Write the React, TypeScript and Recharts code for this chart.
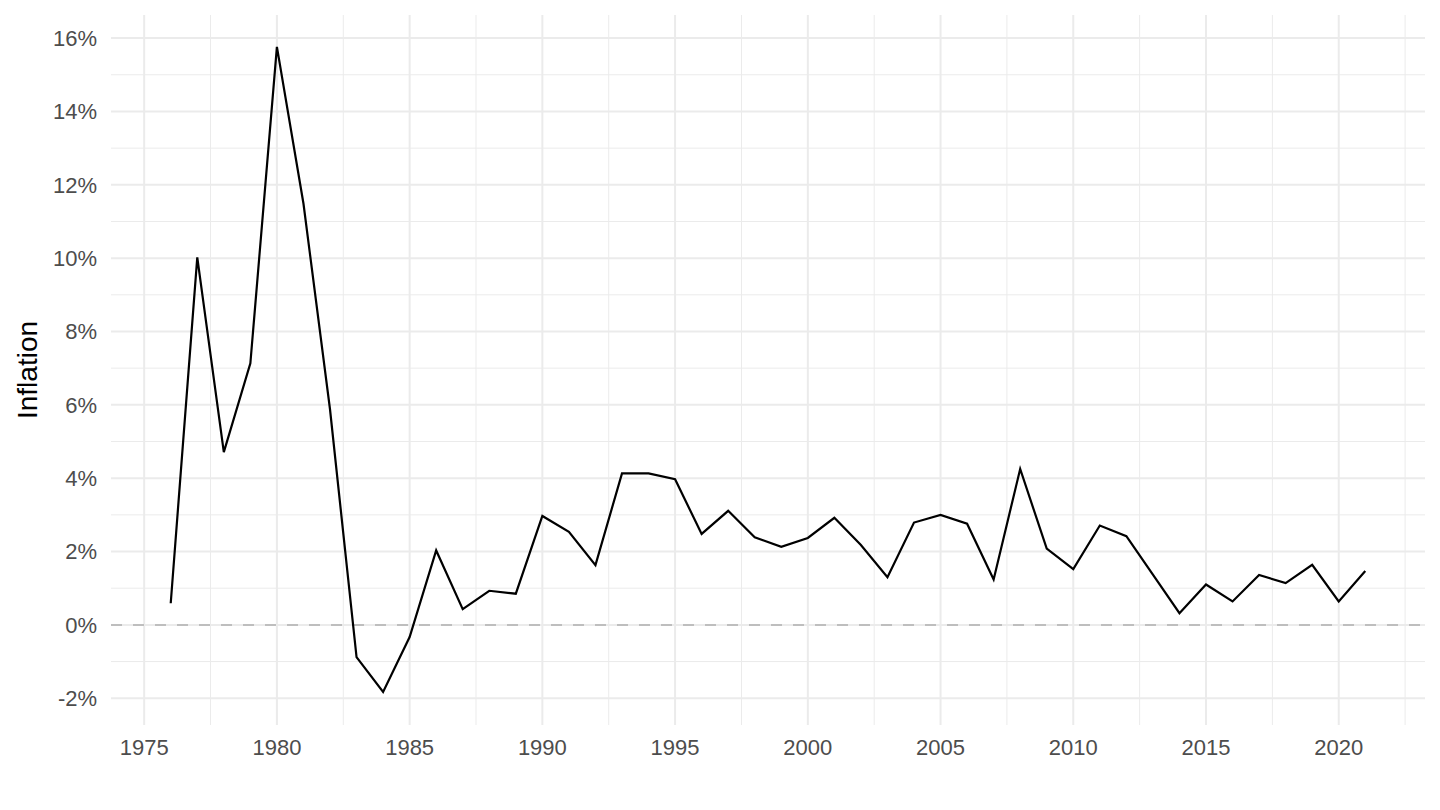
import {
  LineChart,
  Line,
  XAxis,
  YAxis,
  CartesianGrid,
  ReferenceLine,
} from 'recharts';

const years = [
  1976, 1977, 1978, 1979, 1980, 1981, 1982, 1983, 1984, 1985, 1986, 1987,
  1988, 1989, 1990, 1991, 1992, 1993, 1994, 1995, 1996, 1997, 1998, 1999,
  2000, 2001, 2002, 2003, 2004, 2005, 2006, 2007, 2008, 2009, 2010, 2011,
  2012, 2013, 2014, 2015, 2016, 2017, 2018, 2019, 2020, 2021,
];

// annual inflation, percent
const inflation = [
  0.59, 10.02, 4.71, 7.13, 15.76, 11.49, 5.88, -0.88, -1.83, -0.33, 2.03, 0.43,
  0.93, 0.85, 2.97, 2.54, 1.63, 4.13, 4.13, 3.97, 2.48, 3.11, 2.39, 2.13,
  2.37, 2.92, 2.18, 1.3, 2.79, 3.0, 2.76, 1.24, 4.25, 2.08, 1.52, 2.71,
  2.42, 1.37, 0.32, 1.1, 0.64, 1.36, 1.14, 1.64, 0.64, 1.47,
];

const xTicks = [1975, 1980, 1985, 1990, 1995, 2000, 2005, 2010, 2015, 2020];
const xMinor = [1977.5, 1982.5, 1987.5, 1992.5, 1997.5, 2002.5, 2007.5, 2012.5, 2017.5, 2022.5];
const yTicks = [-2, 0, 2, 4, 6, 8, 10, 12, 14, 16];
const yMinor = [-1, 1, 3, 5, 7, 9, 11, 13, 15];

const data = years.map((year, i) => ({ year, inflation: inflation[i] }));

const tickStyle = { fontSize: 22, fill: '#4d4d4d' };

export default function App() {
  return (
    <div
      style={{
        position: 'absolute',
        left: 0,
        top: 0,
        width: 1440,
        height: 810,
        background: '#fff',
        fontFamily: '"Liberation Sans", Arial, Helvetica, sans-serif',
      }}
    >
      <LineChart
        width={1440}
        height={810}
        data={data}
        margin={{ top: 15, right: 15, left: 0, bottom: 0 }}
      >
        <CartesianGrid
          stroke="#ebebeb"
          strokeWidth={1}
          verticalValues={xMinor}
          horizontalValues={yMinor}
          syncWithTicks
        />
        <CartesianGrid stroke="#ebebeb" strokeWidth={2} syncWithTicks />
        <XAxis
          dataKey="year"
          type="number"
          domain={[1973.75, 2023.25]}
          ticks={xTicks}
          allowDataOverflow
          axisLine={false}
          tickLine={false}
          tickSize={6}
          tickMargin={8}
          height={85}
          tick={tickStyle}
        />
        <YAxis
          type="number"
          domain={[-2.73, 16.63]}
          ticks={yTicks}
          allowDataOverflow
          axisLine={false}
          tickLine={false}
          tickSize={6}
          tickMargin={8}
          width={111}
          tick={tickStyle}
          tickFormatter={(v) => `${v}%`}
          label={{
            content: ({ viewBox }: any) => {
              const cx = viewBox.x + 27;
              const cy = viewBox.y + viewBox.height / 2;
              return (
                <text
                  x={cx}
                  y={cy}
                  transform={`rotate(-90, ${cx}, ${cy})`}
                  textAnchor="middle"
                  dominantBaseline="central"
                  fontSize={28}
                  fill="#000"
                >
                  Inflation
                </text>
              );
            },
          }}
        />
        <ReferenceLine
          y={0}
          stroke="#bebebe"
          strokeWidth={2}
          strokeDasharray="11 11"
        />
        <Line
          type="linear"
          dataKey="inflation"
          stroke="#000"
          strokeWidth={2.2}
          dot={false}
          isAnimationActive={false}
        />
      </LineChart>
    </div>
  );
}
